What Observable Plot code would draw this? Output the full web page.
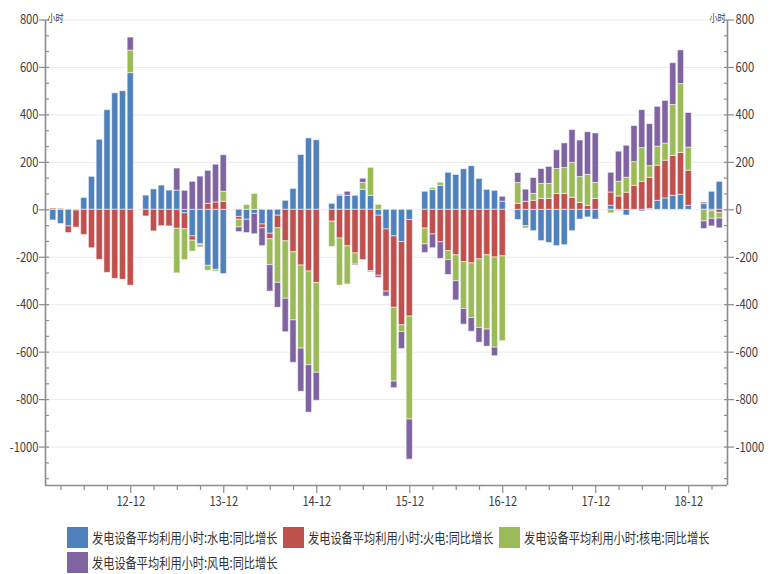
<!DOCTYPE html>
<html><head><meta charset="utf-8">
<script src="https://cdn.jsdelivr.net/npm/d3@7"></script>
<script src="https://cdn.jsdelivr.net/npm/@observablehq/plot@0.6"></script>
<style>
body{margin:0;background:#fff;font-family:"Noto Sans CJK SC",sans-serif;}
#chart svg{display:block;}
#legend{padding-left:67px;margin-top:12px;width:705px;}
.row{display:flex;height:21px;margin-bottom:4px;}
.item{display:flex;align-items:center;width:216px;flex:none;white-space:nowrap;}
.sw{width:21px;height:21px;flex:none;margin-right:4px;}
.lbl{display:inline-block;font-size:14px;color:#333;transform:scaleX(0.8);transform-origin:0 50%;line-height:21px;}
</style></head><body>
<div id="chart"></div>
<div id="legend"></div>
<script>
// ---- data ----
const months = [
  "2012-02","2012-03","2012-04","2012-05","2012-06","2012-07","2012-08","2012-09","2012-10","2012-11","2012-12",
  "2013-02","2013-03","2013-04","2013-05","2013-06","2013-07","2013-08","2013-09","2013-10","2013-11","2013-12",
  "2014-02","2014-03","2014-04","2014-05","2014-06","2014-07","2014-08","2014-09","2014-10","2014-11","2014-12",
  "2015-02","2015-03","2015-04","2015-05","2015-06","2015-07","2015-08","2015-09","2015-10","2015-11","2015-12",
  "2016-02","2016-03","2016-04","2016-05","2016-06","2016-07","2016-08","2016-09","2016-10","2016-11","2016-12",
  "2017-02","2017-03","2017-04","2017-05","2017-06","2017-07","2017-08","2017-09","2017-10","2017-11","2017-12",
  "2018-02","2018-03","2018-04","2018-05","2018-06","2018-07","2018-08","2018-09","2018-10","2018-11","2018-12",
  "2019-02","2019-03","2019-04"
];
const hydro = [
  -45,-60,-70,-3,50,139,295,420,491,500,576,
  60,86,102,81,81,-15,-112,-145,-236,-253,-271,
  -30,-42,-17,-62,-101,-25,38,88,231,301,293,
  25,59,59,59,84,59,-25,-83,-112,-136,-43,
  76,84,101,156,147,171,184,130,84,80,34,
  -43,-69,-90,-132,-140,-153,-149,-90,-41,-32,-41,
  17,-4,-24,-2,-7,4,38,48,59,63,17,
  24,76,118
];
const thermal = [
  5,4,-28,-72,-106,-162,-211,-266,-291,-295,-320,
  -28,-91,-69,-70,-80,-67,-18,-4,25,31,34,
  -12,0,0,-16,-23,-53,-133,-179,-235,-260,-309,
  -50,-121,-154,-184,-212,-258,-253,-262,-301,-351,-407,
  -79,-104,-137,-174,-192,-220,-226,-209,-192,-201,-196,
  25,34,38,46,46,67,67,51,29,17,46,
  56,56,72,101,118,131,148,159,168,177,148,
  6,-6,-13
];
const nuclear = [
  null,null,null,null,null,null,null,null,null,null,95,
  null,null,null,null,-188,-130,-46,-10,-21,-7,42,
  -32,20,67,0,-109,-230,-242,-287,-350,-395,-378,
  -107,-199,-161,-47,29,118,21,0,-311,-28,-434,
  -67,8,13,-38,-109,-198,-230,-289,-313,-380,-358,
  88,-10,29,63,63,105,109,147,109,130,67,
  -15,62,63,100,142,49,80,72,215,290,97,
  -49,-32,-24
];
const wind = [
  null,null,null,null,null,null,null,null,null,null,55,
  null,null,null,null,93,80,118,140,139,159,154,
  -20,-56,-86,-75,-112,-105,-141,-179,-182,-200,-118,
  0,4,17,-4,18,-5,-9,-21,-28,-72,-169,
  -36,-58,-70,-63,-81,-66,-58,-62,-72,-36,21,
  42,51,67,63,72,79,104,138,154,180,209,
  83,127,135,152,160,177,168,180,176,142,146,
  -32,-32,-41
];
const seriesNames = [
  "发电设备平均利用小时:水电:同比增长",
  "发电设备平均利用小时:火电:同比增长",
  "发电设备平均利用小时:核电:同比增长",
  "发电设备平均利用小时:风电:同比增长"
];
const colors = ["#4f81bd","#c0504d","#9bbb59","#8064a2"];
const yTicks = [-1000,-800,-600,-400,-200,0,200,400,600,800];
const xTickLabels = ["12-12","13-12","14-12","15-12","16-12","17-12","18-12"];
const unitLabel = "小时";

// ---- build ----
const monthIndex = s => { const [y, m] = s.split("-").map(Number); return (y - 2012) * 12 + (m - 1); };
const allSeries = [hydro, thermal, nuclear, wind];
const data = [];
allSeries.forEach((vals, si) => {
  vals.forEach((v, j) => {
    if (v != null && v !== 0) data.push({m: monthIndex(months[j]), value: v, series: seriesNames[si]});
  });
});
const xDomain = [0, 88];
const yDomain = [-1162, 800];
const labelIdx = l => (2000 + +l.slice(0, 2) - 2012) * 12 + (+l.slice(3) - 1);
const majorX = xTickLabels.map(labelIdx);
const labelOf = new Map(xTickLabels.map(l => [labelIdx(l), l]));
const quarterX = d3.range(2, xDomain[1], 3).filter(i => !labelOf.has(i));
const minorY = d3.range(0, 30).map(k => yTicks[yTicks.length - 1] - k * 200 / 3).filter(v => v >= yDomain[0]);
const yFmt = d => String(d);

const axisStroke = "#8c8c8c";
const textFill = "#404040";
const chart = Plot.plot({
  width: 772, height: 515,
  marginLeft: 45, marginRight: 45, marginTop: 19.5, marginBottom: 30,
  x: {domain: xDomain},
  y: {domain: yDomain},
  color: {domain: seriesNames, range: colors},
  style: {fontFamily: "'Noto Sans CJK SC', sans-serif", fontSize: "14px", background: "white", overflow: "visible"},
  marks: [
    Plot.ruleY(yTicks, {stroke: "#ebebeb", strokeWidth: 1}),
    Plot.rectY(data, Plot.stackY({x1: d => d.m - 0.4, x2: d => d.m + 0.4, y: "value", fill: "series", stroke: "white", strokeOpacity: 0.55, strokeWidth: 1})),
    Plot.ruleX(xDomain, {stroke: axisStroke, strokeWidth: 1.6}),
    Plot.ruleY([yDomain[0]], {stroke: axisStroke, strokeWidth: 1.6}),
    Plot.axisY(yTicks, {anchor: "left", tickSize: 6, tickPadding: 1, tickFormat: yFmt, label: null, stroke: axisStroke, fill: textFill, strokeWidth: 1.2}),
    Plot.axisY(yTicks, {anchor: "right", tickSize: 6, tickPadding: 2, tickFormat: yFmt, label: null, stroke: axisStroke, fill: textFill, strokeWidth: 1.2}),
    Plot.axisY(minorY, {anchor: "right", frameAnchor: "left", tickSize: 3, tickFormat: () => "", label: null, stroke: axisStroke, strokeWidth: 1.2}),
    Plot.axisY(minorY, {anchor: "left", frameAnchor: "right", tickSize: 3, tickFormat: () => "", label: null, stroke: axisStroke, strokeWidth: 1.2}),
    Plot.axisX(quarterX, {anchor: "bottom", tickSize: 5, tickFormat: () => "", label: null, stroke: axisStroke, strokeWidth: 1.2}),
    Plot.axisX(majorX, {anchor: "bottom", tickSize: 8, tickPadding: 3, tickFormat: i => labelOf.get(i), label: null, stroke: axisStroke, fill: textFill, strokeWidth: 1.2}),
    Plot.text([unitLabel], {frameAnchor: "top-left", dx: 2, dy: -1, textAnchor: "start", lineAnchor: "middle", fontSize: 10, fill: textFill}),
    Plot.text([unitLabel], {frameAnchor: "top-right", dx: -2, dy: -1, textAnchor: "end", lineAnchor: "middle", fontSize: 10, fill: textFill})
  ]
});
// horizontally condensed glyphs as in the reference
chart.querySelectorAll("text").forEach(t => {
  const x = +(t.getAttribute("x") || 0);
  const tr = t.getAttribute("transform") || "";
  t.setAttribute("transform", `${tr} translate(${x},0) scale(0.8,1) translate(${-x},0)`);
});
document.getElementById("chart").appendChild(chart);

// legend
const legend = document.getElementById("legend");
const rows = [seriesNames.slice(0, 3), seriesNames.slice(3)];
rows.forEach(r => {
  const row = document.createElement("div");
  row.className = "row";
  r.forEach(name => {
    const it = document.createElement("div");
    it.className = "item";
    const sw = document.createElement("span");
    sw.className = "sw";
    sw.style.background = colors[seriesNames.indexOf(name)];
    const lb = document.createElement("span");
    lb.className = "lbl";
    lb.textContent = name;
    it.appendChild(sw); it.appendChild(lb);
    row.appendChild(it);
  });
  legend.appendChild(row);
});
</script>
</body></html>
